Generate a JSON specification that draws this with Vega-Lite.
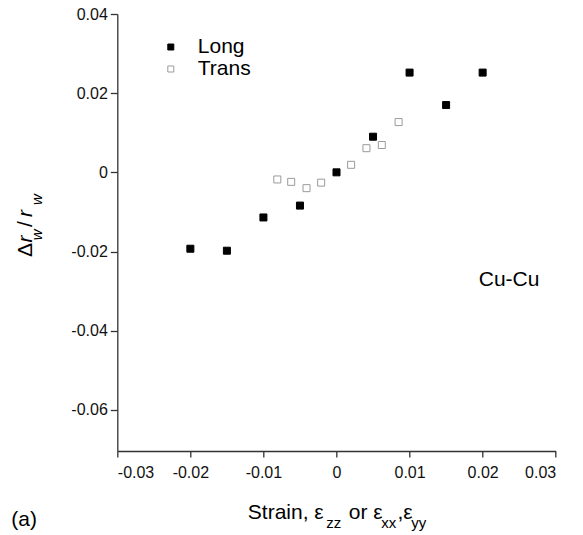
{
  "$schema": "https://vega.github.io/schema/vega-lite/v6.json",
  "autosize": {"type": "none"},
  "padding": {"left": 117.3, "top": 14, "right": 27.3, "bottom": 84},
  "width": 438.4,
  "height": 437,
  "background": "white",
  "config": {
    "view": {"stroke": null},
    "font": "Liberation Sans",
    "axis": {
      "grid": false,
      "domainColor": "#333333",
      "domainWidth": 1.3,
      "tickColor": "#333333",
      "tickWidth": 1.3,
      "labelFont": "Liberation Sans",
      "labelFontSize": 16,
      "labelColor": "#111111",
      "titleFont": "Liberation Sans"
    }
  },
  "datasets": {
    "points": [
      {"series": "Long", "strain": -0.02, "dr": -0.0193},
      {"series": "Long", "strain": -0.015, "dr": -0.0198},
      {"series": "Long", "strain": -0.01, "dr": -0.0114},
      {"series": "Long", "strain": -0.005, "dr": -0.0084},
      {"series": "Long", "strain": 0.0, "dr": 0.0},
      {"series": "Long", "strain": 0.005, "dr": 0.009},
      {"series": "Long", "strain": 0.01, "dr": 0.0252},
      {"series": "Long", "strain": 0.015, "dr": 0.017},
      {"series": "Long", "strain": 0.02, "dr": 0.0252},
      {"series": "Trans", "strain": -0.0081, "dr": -0.0018},
      {"series": "Trans", "strain": -0.0062, "dr": -0.0024},
      {"series": "Trans", "strain": -0.0041, "dr": -0.004},
      {"series": "Trans", "strain": -0.0021, "dr": -0.0026},
      {"series": "Trans", "strain": 0.002, "dr": 0.0019},
      {"series": "Trans", "strain": 0.0041, "dr": 0.0061},
      {"series": "Trans", "strain": 0.0062, "dr": 0.0069},
      {"series": "Trans", "strain": 0.0085, "dr": 0.0127}
    ],
    "notes": [
      {"kind": "xmain", "text": "Strain, ε", "x": -0.01214, "y": -0.08767},
      {"kind": "xmain", "text": "or ε", "x": 0.00168, "y": -0.08767},
      {"kind": "xmain", "text": ",ε", "x": 0.00835, "y": -0.08767},
      {"kind": "xsub", "text": "zz", "x": -0.00141, "y": -0.08986},
      {"kind": "xsub", "text": "xx", "x": 0.00612, "y": -0.08986},
      {"kind": "xsub", "text": "yy", "x": 0.01022, "y": -0.08986},
      {"kind": "ynormal", "text": "Δ", "x": -0.04174, "y": -0.0214},
      {"kind": "ynormal", "text": "/", "x": -0.04174, "y": -0.01382},
      {"kind": "yitalic", "text": "r", "x": -0.04174, "y": -0.01775},
      {"kind": "yitalic", "text": "r", "x": -0.04174, "y": -0.01129},
      {"kind": "ysub", "text": "w", "x": -0.04037, "y": -0.01714},
      {"kind": "ysub", "text": "w", "x": -0.04037, "y": -0.00826},
      {"kind": "plain", "text": "(a)", "x": -0.04452, "y": -0.08936},
      {"kind": "plain", "text": "Cu-Cu", "x": 0.01947, "y": -0.02872}
    ]
  },
  "layer": [
    {
      "data": {"name": "points"},
      "mark": {"type": "point", "shape": "square", "size": 49, "strokeWidth": 1, "opacity": 1},
      "encoding": {
        "x": {
          "field": "strain", "type": "quantitative",
          "scale": {"domain": [-0.03, 0.03], "nice": false, "zero": false},
          "axis": {
            "title": null,
            "values": [-0.03, -0.02, -0.01, 0, 0.01, 0.02, 0.03],
            "tickSize": 6, "labelPadding": 7,
            "labelExpr": "datum.value == 0 ? '0' : (datum.value < 0 ? '-' : '') + format(abs(datum.value), '.2f')"
          }
        },
        "y": {
          "field": "dr", "type": "quantitative",
          "scale": {"domain": [-0.0704, 0.04], "nice": false, "zero": false},
          "axis": {
            "title": null,
            "values": [-0.06, -0.04, -0.02, 0, 0.02, 0.04],
            "tickSize": 7, "labelPadding": 3,
            "labelExpr": "datum.value == 0 ? '0' : (datum.value < 0 ? '-' : '') + format(abs(datum.value), '.2f')"
          }
        },
        "fill": {
          "field": "series", "type": "nominal",
          "scale": {"domain": ["Long", "Trans"], "range": ["#000000", "#ffffff"]},
          "legend": {
            "title": null, "orient": "none", "legendX": 43, "legendY": 22.5,
            "padding": 0, "symbolType": "square", "symbolSize": 36, "symbolStrokeWidth": 1,
            "labelFontSize": 21, "labelFont": "Liberation Sans", "labelColor": "#000000",
            "labelOffset": 16.5, "rowPadding": 0
          }
        },
        "stroke": {
          "field": "series", "type": "nominal",
          "scale": {"domain": ["Long", "Trans"], "range": ["#000000", "#9a9a9a"]},
          "legend": {
            "title": null, "orient": "none", "legendX": 43, "legendY": 22.5,
            "padding": 0, "symbolType": "square", "symbolSize": 36, "symbolStrokeWidth": 1,
            "labelFontSize": 21, "labelFont": "Liberation Sans", "labelColor": "#000000",
            "labelOffset": 16.5, "rowPadding": 0
          }
        }
      }
    },
    {
      "data": {"name": "notes"},
      "transform": [{"filter": "datum.kind == 'xmain' || datum.kind == 'plain'"}],
      "mark": {"type": "text", "align": "left", "baseline": "alphabetic", "fontSize": 21, "color": "#000000"},
      "encoding": {
        "x": {"field": "x", "type": "quantitative"},
        "y": {"field": "y", "type": "quantitative"},
        "text": {"field": "text"}
      }
    },
    {
      "data": {"name": "notes"},
      "transform": [{"filter": "datum.kind == 'xsub'"}],
      "mark": {"type": "text", "align": "left", "baseline": "alphabetic", "fontSize": 15, "color": "#000000"},
      "encoding": {
        "x": {"field": "x", "type": "quantitative"},
        "y": {"field": "y", "type": "quantitative"},
        "text": {"field": "text"}
      }
    },
    {
      "data": {"name": "notes"},
      "transform": [{"filter": "datum.kind == 'ynormal'"}],
      "mark": {"type": "text", "align": "left", "baseline": "alphabetic", "angle": 270, "fontSize": 21, "color": "#000000"},
      "encoding": {
        "x": {"field": "x", "type": "quantitative"},
        "y": {"field": "y", "type": "quantitative"},
        "text": {"field": "text"}
      }
    },
    {
      "data": {"name": "notes"},
      "transform": [{"filter": "datum.kind == 'yitalic'"}],
      "mark": {"type": "text", "align": "left", "baseline": "alphabetic", "angle": 270, "fontSize": 21, "fontStyle": "italic", "color": "#000000"},
      "encoding": {
        "x": {"field": "x", "type": "quantitative"},
        "y": {"field": "y", "type": "quantitative"},
        "text": {"field": "text"}
      }
    },
    {
      "data": {"name": "notes"},
      "transform": [{"filter": "datum.kind == 'ysub'"}],
      "mark": {"type": "text", "align": "left", "baseline": "alphabetic", "angle": 270, "fontSize": 15, "fontStyle": "italic", "color": "#000000"},
      "encoding": {
        "x": {"field": "x", "type": "quantitative"},
        "y": {"field": "y", "type": "quantitative"},
        "text": {"field": "text"}
      }
    }
  ]
}
